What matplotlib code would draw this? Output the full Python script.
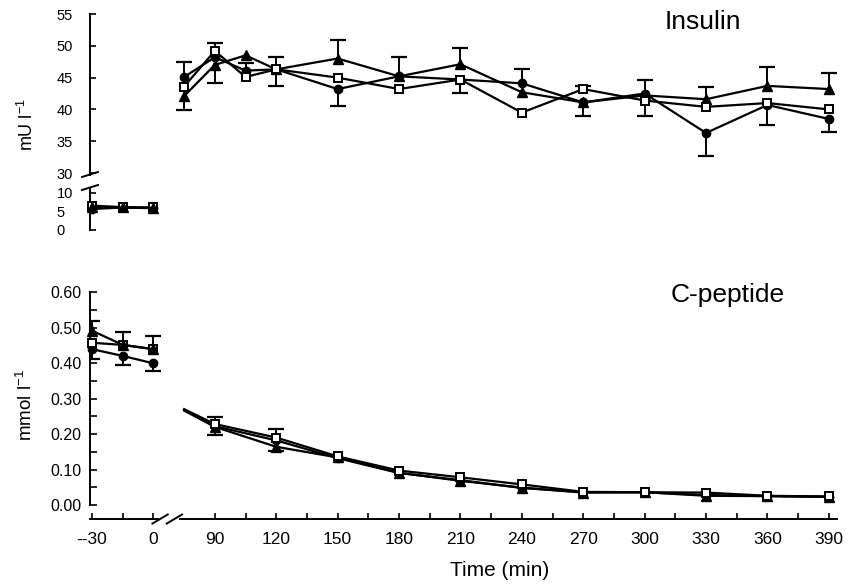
import matplotlib
matplotlib.use('Agg')
import matplotlib.pyplot as plt
from matplotlib.lines import Line2D

plt.rcParams['font.family'] = 'Liberation Sans'
plt.rcParams['mathtext.fontset'] = 'custom'
plt.rcParams['mathtext.rm'] = 'Liberation Sans'
plt.rcParams['mathtext.it'] = 'Liberation Sans'

#time points (min); baseline is drawn left of the axis break
base_t = [-30, -15, 0]
ins_t = [75, 90, 105, 120, 150, 180, 210, 240, 270, 300, 330, 360, 390]
cp_t = [75, 90, 120, 150, 180, 210, 240, 270, 300, 330, 360, 390]

#insulin (mU/l), baseline part
ins_base_circle = [5.6, 6.0, 5.8]
ins_base_square = [6.5, 6.1, 6.0]
ins_base_triangle = [6.2, 6.0, 5.9]

#insulin after clamp start
ins_circle = [45.1, 48.2, 46.1, 46.3, 43.2, 45.2, 44.7, 44.1, 41.1, 42.5, 36.3, 40.7, 38.5]
ins_square = [43.6, 49.2, 45.1, 46.3, 45.0, 43.2, 44.7, 39.5, 43.2, 41.4, 40.4, 41.0, 40.0]
ins_triangle = [42.1, 47.0, 48.5, 46.3, 48.0, 45.2, 47.1, 42.7, 41.1, 42.2, 41.6, 43.7, 43.2]

#one-sided error bars (SEM) as drawn in the figure
ins_circle_up = [2.3, 0, 1.2, 0, 0, 3.0, 0, 2.2, 0, 2.1, 0, 0, 0]
ins_circle_dn = [0, 0, 0, 2.6, 2.7, 0, 2.1, 0, 2.2, 0, 3.7, 3.2, 2.0]
ins_square_up = [0, 1.2, 0, 0, 0, 0, 0, 0, 0.5, 0, 0, 0, 0]
ins_square_dn = [0, 0, 0, 0, 0, 0, 0, 0, 0, 2.4, 0, 0, 0]
ins_triangle_up = [0, 0, 0, 2.0, 2.9, 0, 2.6, 0, 0, 0, 1.9, 2.9, 2.5]
ins_triangle_dn = [2.2, 2.9, 0, 0, 0, 0, 0, 0, 0, 0, 0, 0, 0]

#C-peptide (mmol/l)
cp_base_circle = [0.439, 0.420, 0.399]
cp_base_square = [0.457, 0.451, 0.439]
cp_base_triangle = [0.491, 0.451, 0.439]
cp_base_up = [0.028, 0.035, 0.037]
cp_base_dn = [0.029, 0.026, 0.021]

cp_circle = [0.268, 0.222, 0.182, 0.132, 0.090, 0.070, 0.048, 0.036, 0.036, 0.028, 0.025, 0.023]
cp_square = [0.270, 0.228, 0.190, 0.137, 0.097, 0.078, 0.058, 0.037, 0.036, 0.035, 0.026, 0.024]
cp_triangle = [0.266, 0.220, 0.164, 0.134, 0.091, 0.068, 0.049, 0.035, 0.036, 0.026, 0.025, 0.023]
cp_square_up = [0, 0.021, 0.023, 0, 0, 0, 0, 0, 0, 0, 0, 0]
cp_circle_dn = [0, 0.025, 0, 0, 0, 0, 0, 0, 0, 0, 0, 0]
cp_triangle_dn = [0, 0, 0.011, 0, 0, 0, 0, 0, 0, 0, 0, 0]

tick_vals = [-30, 0, 90, 120, 150, 180, 210, 240, 270, 300, 330, 360, 390]
tick_text = ['--30', '0', '90', '120', '150', '180', '210', '240', '270', '300', '330', '360', '390']
minor_vals = [-15] + list(range(105, 390, 30))

SHIFT = 60  # baseline minutes are moved right so the gap after 0 stays short


def pos(t):
    return [v + SHIFT if v <= 0 else v for v in t]


W, H = 848, 585


def box(l, t, r, b):
    return [l / W, 1 - b / H, (r - l) / W, (b - t) / H]


fig = plt.figure(figsize=(W / 100, H / 100), dpi=100)
ax_hi = fig.add_axes(box(90, 14, 837, 175))
ax_lo = fig.add_axes(box(90, 188, 837, 230))
ax_c = fig.add_axes(box(90, 292, 837, 519))

styles = {
    'circle': dict(marker='o', ms=6, mfc='black', mec='black'),
    'triangle': dict(marker='^', ms=7, mfc='black', mec='black'),
    'square': dict(marker='s', ms=6, mfc='white', mec='black', mew=1.4),
}
lw = 1.6


def bars(ax, t, y, up, dn):
    for ti, yi, u, d in zip(t, y, up, dn):
        for e in (u, -d):
            if e:
                ax.vlines(ti, yi, yi + e, color='black', lw=1.4, zorder=2)
                ax.plot(ti, yi + e, marker='_', ms=11, mew=1.6, color='black', zorder=2)


#insulin panel
for ax in (ax_hi, ax_lo):
    ax.set_xlim(29, 394)
    for s in ('top', 'right', 'bottom'):
        ax.spines[s].set_visible(False)
    ax.spines['left'].set_linewidth(1.4)
    ax.tick_params(axis='x', bottom=False, labelbottom=False)
    ax.tick_params(axis='y', direction='in', length=4, width=1.2, labelsize=10.5, pad=24)
    ax.patch.set_alpha(0)

ax_hi.set_ylim(29.69, 55)
ax_hi.set_yticks([30, 35, 40, 45, 50, 55])
ax_lo.set_ylim(0, 11.2)
ax_lo.set_yticks([0, 5, 10])
for ax in (ax_hi, ax_lo):
    for lab in ax.get_yticklabels():
        lab.set_ha('left')

for name, yb in (('circle', ins_base_circle), ('square', ins_base_square),
                 ('triangle', ins_base_triangle)):
    ax_lo.plot(pos(base_t), yb, color='black', lw=lw, clip_on=False, zorder=3, **styles[name])
for name, y in (('circle', ins_circle), ('triangle', ins_triangle), ('square', ins_square)):
    ax_hi.plot(ins_t, y, color='black', lw=lw, clip_on=False, zorder=3, **styles[name])

bars(ax_hi, ins_t, ins_circle, ins_circle_up, ins_circle_dn)
bars(ax_hi, ins_t, ins_square, ins_square_up, ins_square_dn)
bars(ax_hi, ins_t, ins_triangle, ins_triangle_up, ins_triangle_dn)

#C-peptide panel
ax_c.set_xlim(29, 394)
ax_c.set_ylim(-0.0394, 0.6)
for s in ('top', 'right', 'bottom'):
    ax_c.spines[s].set_visible(False)
ax_c.spines['left'].set_bounds(0, 0.6)
ax_c.spines['left'].set_linewidth(1.4)
ax_c.set_yticks([0.0, 0.1, 0.2, 0.3, 0.4, 0.5, 0.6])
ax_c.set_yticklabels(['0.00', '0.10', '0.20', '0.30', '0.40', '0.50', '0.60'])
ax_c.set_yticks([0.05, 0.15, 0.25, 0.35, 0.45, 0.55], minor=True)
ax_c.tick_params(axis='y', which='both', direction='in', length=5, width=1.2, labelsize=11.5, pad=6)
ax_c.set_xticks(pos(tick_vals))
ax_c.set_xticklabels(tick_text)
ax_c.set_xticks(pos(minor_vals), minor=True)
ax_c.tick_params(axis='x', which='both', direction='in', length=4, width=1.2, labelsize=12.5, pad=9)

for name, yb in (('circle', cp_base_circle), ('square', cp_base_square),
                 ('triangle', cp_base_triangle)):
    ax_c.plot(pos(base_t), yb, color='black', lw=lw, clip_on=False, zorder=3, **styles[name])
for name, y in (('circle', cp_circle), ('triangle', cp_triangle), ('square', cp_square)):
    ax_c.plot(cp_t, y, color='black', lw=lw, markevery=slice(1, None), zorder=3, **styles[name])

bars(ax_c, pos(base_t), cp_base_triangle, cp_base_up, [0, 0, 0])
bars(ax_c, pos(base_t), cp_base_circle, [0, 0, 0], cp_base_dn)
bars(ax_c, cp_t, cp_square, cp_square_up, [0] * len(cp_t))
bars(ax_c, cp_t, cp_circle, [0] * len(cp_t), cp_circle_dn)
bars(ax_c, cp_t, cp_triangle, [0] * len(cp_t), cp_triangle_dn)

#broken x axis
xt = ax_c.get_xaxis_transform()
ax_c.plot([29, 62], [0, 0], color='black', lw=1.4, transform=xt, clip_on=False)
ax_c.plot([73, 394], [0, 0], color='black', lw=1.4, transform=xt, clip_on=False)
for x0 in (59.5, 66.5):
    ax_c.plot([x0, x0 + 7.5], [-0.02, 0.02], color='black', lw=1.4, transform=xt, clip_on=False)

#broken insulin y axis
for y0 in (177, 190):
    fig.add_artist(Line2D([82 / W, 98 / W], [1 - y0 / H, 1 - (y0 - 5) / H],
                          color='black', lw=1.4, transform=fig.transFigure))

fig.text(703 / W, 1 - 22 / H, 'Insulin', fontsize=19, ha='center', va='center')
fig.text(728 / W, 1 - 295 / H, 'C-peptide', fontsize=19, ha='center', va='center')
fig.text(27 / W, 1 - 125 / H, r'mU l$^{-1}$', fontsize=13, rotation=90, ha='center', va='center')
fig.text(26 / W, 1 - 405 / H, r'mmol l$^{-1}$', fontsize=13.5, rotation=90, ha='center', va='center')
fig.text(500 / W, 1 - 571 / H, 'Time (min)', fontsize=15, ha='center', va='center')

fig.savefig('out.png', dpi=100)
